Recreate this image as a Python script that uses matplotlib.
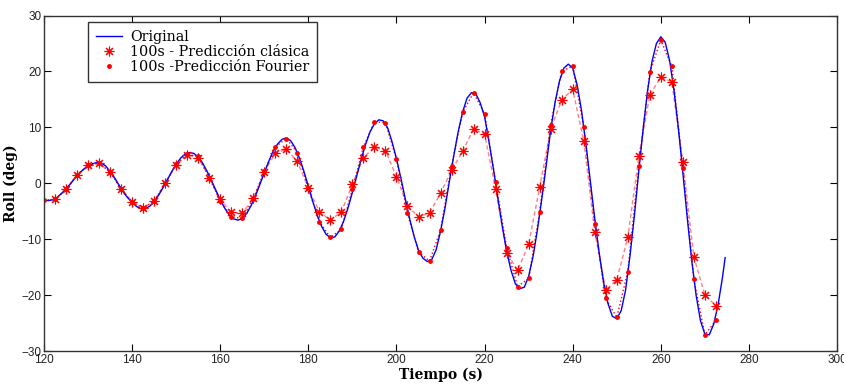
import numpy as np
import matplotlib
matplotlib.use('Agg')
import matplotlib.pyplot as plt

# Roll original vs predicciones (100s)

# serie original, muestreada cada 1 s (+ punto final)
t_orig = list(range(120, 275)) + [274.6]
roll_orig = [
    -3.0, -3.1, -2.95, -2.5, -1.8, -1.0, -0.1, 0.9, 1.8, 2.5,
    3.1, 3.5, 3.7, 3.6, 3.1, 2.1, 1.0, -0.3, -1.6, -2.6,
    -3.4, -4.15, -4.55, -4.55, -4.1, -3.3, -2.15, -0.8, 0.65, 2.1,
    3.4, 4.5, 5.2, 5.5, 5.35, 4.7, 3.6, 2.15, 0.5, -1.25,
    -2.95, -4.45, -5.6, -6.35, -6.6, -6.3, -5.4, -4.0, -2.25, -0.2,
    1.9, 3.9, 5.7, 7.0, 7.85, 8.1, 7.6, 6.35, 4.45, 2.1,
    -0.6, -3.25, -5.7, -7.7, -9.1, -9.75, -9.6, -8.55, -6.8, -4.4,
    -1.6, 1.4, 4.35, 7.0, 9.2, 10.65, 11.35, 11.15, 9.9, 7.4,
    4.4, 0.9, -2.8, -6.4, -9.5, -12.0, -13.4, -14.0, -13.65, -11.9,
    -8.6, -4.5, 0.3, 4.9, 9.2, 12.7, 15.2, 16.2, 16.0, 14.4,
    11.9, 7.4, 2.6, -2.6, -7.6, -12.1, -15.6, -18.0, -18.85, -18.6,
    -16.65, -13.1, -8.3, -2.7, 3.3, 9.5, 14.5, 18.3, 20.6, 21.3,
    20.6, 17.6, 13.0, 7.0, 0.3, -6.3, -12.4, -17.7, -21.5, -23.8,
    -24.2, -22.8, -19.1, -13.0, -5.8, 2.2, 9.8, 16.6, 21.8, 25.0,
    26.2, 25.2, 21.9, 16.6, 9.7, 1.9, -6.2, -13.7, -20.0, -24.6,
    -27.0, -27.1, -25.2, -21.7, -16.8, -13.3,
]

# prediccion clasica (asteriscos), cada 2.5 s
t_clas = np.arange(122.5, 273, 2.5)
roll_clas = [
    -2.9, -1.1, 1.5, 3.2, 3.6, 2.0, -1.0, -3.3, -4.4, -3.2,
    0.0, 3.3, 5.0, 4.6, 1.0, -2.9, -5.2, -5.4, -2.7, 2.0,
    5.4, 6.1, 3.9, -0.9, -5.1, -6.6, -5.1, -0.2, 4.6, 6.5,
    5.8, 1.2, -4.1, -6.0, -5.3, -1.8, 2.3, 5.7, 9.7, 8.8,
    -1.1, -12.4, -15.6, -10.9, -0.7, 9.7, 14.9, 16.8, 7.6, -8.7,
    -19.1, -17.3, -9.7, 4.8, 15.8, 19.0, 18.1, 3.8, -13.2, -20.0,
    -21.9,
]

# prediccion Fourier (puntos), cada 2.5 s
t_four = np.arange(120, 273, 2.5)
roll_four = [
    -3.0, -2.9, -1.1, 1.5, 3.2, 3.6, 2.0, -1.0, -3.4, -4.4,
    -3.2, 0.0, 3.4, 5.2, 4.8, 1.0, -3.2, -6.0, -6.3, -2.8,
    2.2, 6.5, 8.0, 5.5, -0.9, -6.9, -9.7, -8.2, -1.0, 6.5,
    11.0, 10.8, 4.3, -5.4, -12.3, -13.9, -8.4, 3.1, 12.7, 16.2,
    12.4, 0.3, -11.5, -18.5, -17.0, -5.1, 10.5, 20.1, 20.9, 10.1,
    -7.3, -20.6, -24.0, -15.8, 3.1, 19.9, 25.6, 20.9, 2.7, -17.2,
    -27.1, -24.5,
]

x_ticks = [120, 140, 160, 180, 200, 220, 240, 260, 280, 300]
y_ticks = [-30, -20, -10, 0, 10, 20, 30]

plt.rcParams['font.family'] = ['Liberation Sans', 'DejaVu Sans']

fig = plt.figure(figsize=(8.45, 3.85), dpi=100)
ax = fig.add_axes([0.0521, 0.0883, 0.9385, 0.8714])

# lineas de union de las predicciones (sin leyenda)
ax.plot(t_clas, roll_clas, '--', color='#ff6060', lw=1.0, alpha=0.8,
        dashes=(3, 2))
ax.plot(t_four, roll_four, ':', color='red', lw=1.0)

ax.plot(t_orig, roll_orig, '-', color='#0000ff', lw=1.0, label='Original')
ax.plot(t_clas, roll_clas, marker=(8, 2, 0), color='red', ms=7, mew=0.8,
        ls='none', label='100s - Predicción clásica')
ax.plot(t_four, roll_four, '.', color='red', ms=5, ls='none',
        label='100s -Predicción Fourier')

ax.set_xlim(120, 300)
ax.set_ylim(-30, 30)
ax.set_xticks(x_ticks)
ax.set_yticks(y_ticks)
ax.tick_params(direction='in', length=5, width=0.8, labelsize=8.5,
               labelcolor='#222222', top=True, right=True, pad=2)
for s in ax.spines.values():
    s.set_color('#333333')
    s.set_linewidth(1.0)

lab_font = dict(family='DejaVu Serif', weight='bold', size=10)
ax.set_xlabel('Tiempo (s)', fontdict=lab_font, labelpad=1)
ax.set_ylabel('Roll (deg)', fontdict=lab_font)
ax.yaxis.set_label_coords(-0.033, 0.5)

leg = ax.legend(loc='upper left', bbox_to_anchor=(0.0555, 0.98),
                borderaxespad=0, fancybox=False, framealpha=1,
                edgecolor='#333333', handlelength=1.8, handletextpad=0.6,
                labelspacing=0.08, borderpad=0.55,
                prop=dict(family='DejaVu Serif', size=10.3))
leg.get_frame().set_linewidth(1.0)

fig.savefig('out.png', dpi=100)
